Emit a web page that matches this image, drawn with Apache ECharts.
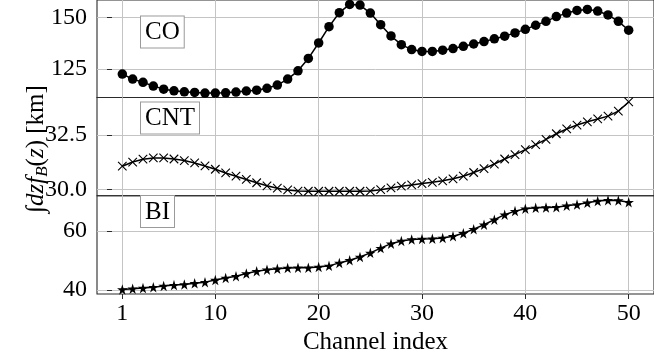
<!DOCTYPE html>
<html>
<head>
<meta charset="utf-8">
<script src="https://cdn.jsdelivr.net/npm/echarts@6/dist/echarts.min.js"></script>
<style>
  html, body { margin: 0; padding: 0; background: #ffffff; }
  #chart { width: 654px; height: 360px; }
</style>
</head>
<body>
<div id="chart"></div>
<script>
// Channel indices shared by all three panels
const channels = [1, 2, 3, 4, 5, 6, 7, 8, 9, 10, 11, 12, 13, 14, 15, 16, 17, 18, 19, 20,
  21, 22, 23, 24, 25, 26, 27, 28, 29, 30, 31, 32, 33, 34, 35, 36, 37, 38, 39, 40,
  41, 42, 43, 44, 45, 46, 47, 48, 49, 50];

// Integrated path length per channel [km]
const coValues = [122.6, 120.2, 118.6, 116.8, 115.3, 114.5, 114.0, 113.7, 113.4, 113.4,
  113.5, 113.9, 114.4, 114.8, 115.7, 117.3, 120.2, 124.2, 130.2, 137.7,
  145.6, 152.4, 156.4, 156.1, 152.2, 146.6, 141.1, 136.9, 134.5, 133.6,
  133.6, 134.2, 135.0, 136.1, 137.2, 138.4, 139.7, 141.0, 142.6, 144.3,
  146.3, 148.2, 150.5, 152.2, 153.5, 154.0, 153.2, 151.3, 148.2, 143.9];

const cntValues = [31.06, 31.25, 31.38, 31.44, 31.44, 31.39, 31.32, 31.21, 31.07, 30.92,
  30.75, 30.60, 30.45, 30.30, 30.16, 30.05, 29.97, 29.92, 29.91, 29.91,
  29.91, 29.91, 29.91, 29.91, 29.92, 29.98, 30.06, 30.14, 30.20, 30.26,
  30.32, 30.39, 30.48, 30.60, 30.77, 30.95, 31.16, 31.39, 31.59, 31.82,
  32.05, 32.29, 32.55, 32.77, 32.95, 33.10, 33.23, 33.36, 33.59, 34.01];

const biValues = [40.2, 40.45, 40.7, 41.0, 41.4, 41.7, 41.9, 42.3, 42.7, 43.4,
  44.1, 44.7, 45.6, 46.4, 46.9, 47.2, 47.5, 47.6, 47.6, 47.8,
  48.2, 49.2, 50.1, 51.2, 52.6, 54.2, 55.7, 56.6, 57.1, 57.3,
  57.4, 57.6, 58.2, 59.2, 60.6, 62.1, 63.8, 65.5, 66.7, 67.5,
  67.8, 67.9, 68.0, 68.5, 68.9, 69.5, 70.1, 70.4, 70.3, 69.7];

// Tick labels
const xTicks = [1, 10, 20, 30, 40, 50];
const coTicks = [125, 150];
const cntTicks = [30.0, 32.5];
const biTicks = [40, 60];
const panelNames = ['CO', 'CNT', 'BI'];

const FONT = 'Liberation Serif';
const GRID_COLOR = '#c4c4c4';
const FRAME_COLOR = '#2a2a2a';

function pairs(values) {
  return channels.map((c, i) => [c, values[i]]);
}

// axis extents padded by 5% of the data span
function padded(values, pad) {
  const lo = Math.min(...values), hi = Math.max(...values);
  const m = (hi - lo) * pad;
  return [lo - m, hi + m];
}
const xRange = padded(channels, 0.05);

const panels = [
  { top: -0.5, height: 98.0, values: coValues, ticks: coTicks, fmt: v => String(v) },
  { top: 97.5, height: 98.2, values: cntValues, ticks: cntTicks, fmt: v => v.toFixed(1) },
  { top: 195.7, height: 98.3, values: biValues, ticks: biTicks, fmt: v => String(v) }
];

const grids = panels.map(p => ({
  left: 97, width: 565.7, top: p.top, height: p.height,
  show: true, borderColor: FRAME_COLOR, borderWidth: 1.1, backgroundColor: 'transparent'
}));

const xAxes = panels.map((p, i) => {
  const last = i === panels.length - 1;
  return {
    type: 'value', gridIndex: i, min: xRange[0], max: xRange[1],
    axisLine: { show: false },
    axisTick: { show: last, customValues: xTicks, length: 5, lineStyle: { color: FRAME_COLOR } },
    axisLabel: {
      show: last, customValues: xTicks, margin: 8,
      fontFamily: FONT, fontSize: 24, color: '#000'
    },
    splitLine: { show: true, lineStyle: { color: GRID_COLOR, width: 1 } },
    name: last ? 'Channel index' : '',
    nameLocation: 'middle', nameGap: 36,
    nameTextStyle: { fontFamily: FONT, fontSize: 25, color: '#000' }
  };
});

const yAxes = panels.map((p, i) => {
  const r = padded(p.values, 0.05);
  return {
    type: 'value', gridIndex: i, min: r[0], max: r[1],
    axisLine: { show: false },
    axisTick: { show: true, customValues: p.ticks, length: 5, lineStyle: { color: FRAME_COLOR } },
    axisLabel: {
      customValues: p.ticks, margin: 10, formatter: p.fmt,
      fontFamily: FONT, fontSize: 24, color: '#000'
    },
    splitLine: { show: true, lineStyle: { color: GRID_COLOR, width: 1 } }
  };
});

const starPath = 'path://M50,0 L61,35 L98,35 L68,57 L79,91 L50,70 L21,91 L32,57 L2,35 L39,35 Z';
const crossPath = 'path://M0,0 L10,10 M10,0 L0,10';

const series = [
  {
    type: 'line', xAxisIndex: 0, yAxisIndex: 0, data: pairs(coValues),
    symbol: 'circle', symbolSize: 9.5,
    itemStyle: { color: '#000' }, lineStyle: { color: '#000', width: 1.5 }
  },
  {
    type: 'line', xAxisIndex: 1, yAxisIndex: 1, data: pairs(cntValues),
    symbol: crossPath, symbolSize: 8.5,
    itemStyle: { color: 'rgba(0,0,0,0)', borderColor: '#000', borderWidth: 1.1 },
    lineStyle: { color: '#000', width: 1.5 }
  },
  {
    type: 'line', xAxisIndex: 2, yAxisIndex: 2, data: pairs(biValues),
    symbol: starPath, symbolSize: 10.5,
    itemStyle: { color: '#000' }, lineStyle: { color: '#000', width: 1.5 }
  }
].map(s => Object.assign(s, { showAllSymbol: true, animation: false, silent: true, z: 3 }));

// boxed panel captions
const boxTops = [15.5, 101.5, 195];
const captions = panelNames.map((name, i) => ({
  type: 'text', left: 140, top: boxTops[i], z: 10,
  style: {
    text: name, fontFamily: FONT, fontSize: 25, fill: '#000',
    lineHeight: 26,
    backgroundColor: '#fff', borderColor: '#9a9a9a', borderWidth: 1,
    padding: [3, 4, 2, 4]
  }
}));

const yTitle = {
  type: 'text', x: 36, y: 149, rotation: Math.PI / 2, z: 10,
  style: {
    text: '{n|∫}{i|dz}{i|f}{s|B}{n|(}{i|z}{n|) [km]}',
    align: 'center', verticalAlign: 'middle',
    rich: {
      n: { fontFamily: FONT, fontSize: 25, fill: '#000', lineHeight: 30 },
      i: { fontFamily: FONT, fontSize: 25, fontStyle: 'italic', fill: '#000', lineHeight: 30 },
      s: { fontFamily: FONT, fontSize: 17, fontStyle: 'italic', fill: '#000', lineHeight: 30, verticalAlign: 'bottom', padding: [10, 0, 0, 0] }
    }
  }
};

const chart = echarts.init(document.getElementById('chart'), null, { renderer: 'canvas' });
chart.setOption({
  backgroundColor: '#ffffff',
  animation: false,
  grid: grids,
  xAxis: xAxes,
  yAxis: yAxes,
  series: series,
  graphic: captions.concat([yTitle])
});
</script>
</body>
</html>
